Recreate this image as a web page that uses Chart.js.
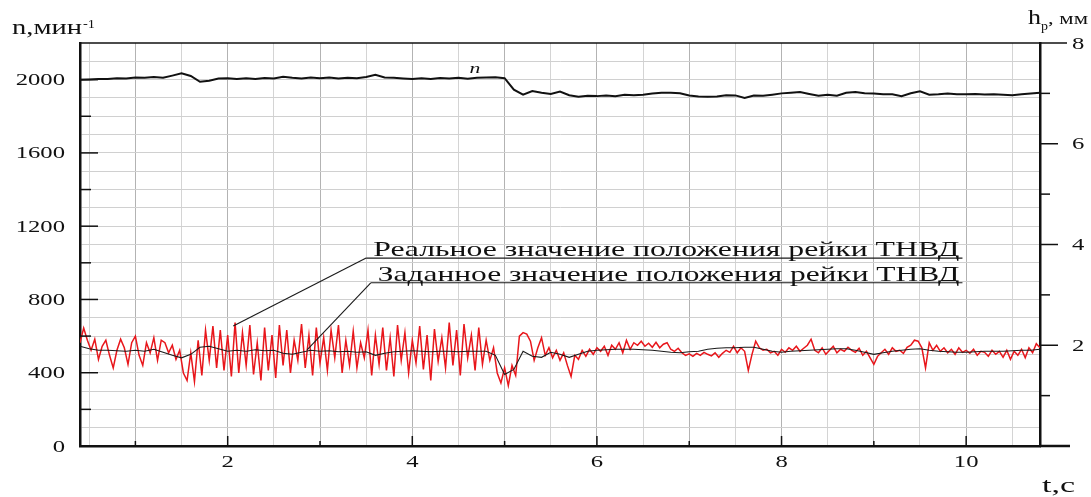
<!DOCTYPE html>
<html lang="ru">
<head>
<meta charset="UTF-8">
<title>n и h_p во времени</title>
<script src="https://cdn.jsdelivr.net/npm/chart.js@4.4.0/dist/chart.umd.min.js"></script>
<style>
  html, body { margin: 0; padding: 0; background: #fff; }
  #wrap { position: relative; width: 1091px; height: 497px; }
</style>
</head>
<body>
<div id="wrap"><canvas id="chart"></canvas></div>
<script>
// --- data ---
// engine speed n, min^-1, sampled every 0.1 s from 0.4 s
const SPEED_T0 = 0.4, SPEED_DT = 0.1;
const speedN = [
  2000, 2001, 2003, 2004, 2007, 2006, 2012, 2010, 2014, 2010,
  2022, 2035, 2020, 1988, 1994, 2006, 2008, 2004, 2007, 2003,
  2009, 2006, 2016, 2010, 2006, 2011, 2008, 2012, 2006, 2010,
  2008, 2014, 2026, 2012, 2010, 2006, 2003, 2007, 2004, 2009,
  2006, 2010, 2005, 2010, 2012, 2013, 2008, 1945, 1918, 1938,
  1928, 1922, 1935, 1915, 1907, 1912, 1910, 1914, 1910, 1918,
  1915, 1918, 1924, 1928, 1928, 1926, 1914, 1908, 1906, 1908,
  1915, 1914, 1900, 1913, 1912, 1918, 1925, 1928, 1932, 1922,
  1912, 1918, 1912, 1928, 1932, 1926, 1924, 1920, 1920, 1910,
  1926, 1936, 1918, 1920, 1924, 1920, 1920, 1921, 1919, 1920,
  1918, 1915, 1920, 1924, 1928
];

// set rack position, mm, same time grid as speed
const rackSet = [
  1.98, 1.93, 1.90, 1.90, 1.89, 1.88, 1.90, 1.88, 1.92, 1.86,
  1.80, 1.75, 1.82, 1.96, 1.98, 1.93, 1.88, 1.90, 1.88, 1.91,
  1.89, 1.90, 1.84, 1.82, 1.86, 1.90, 1.88, 1.89, 1.87, 1.88,
  1.86, 1.87, 1.80, 1.84, 1.87, 1.88, 1.89, 1.88, 1.87, 1.88,
  1.88, 1.87, 1.88, 1.88, 1.88, 1.80, 1.42, 1.52, 1.88, 1.78,
  1.76, 1.86, 1.82, 1.76, 1.82, 1.88, 1.90, 1.91, 1.92, 1.92,
  1.92, 1.91, 1.90, 1.88, 1.86, 1.85, 1.87, 1.88, 1.92, 1.94,
  1.95, 1.95, 1.96, 1.96, 1.92, 1.88, 1.86, 1.88, 1.89, 1.90,
  1.91, 1.92, 1.93, 1.93, 1.90, 1.86, 1.82, 1.85, 1.88, 1.90,
  1.92, 1.93, 1.90, 1.88, 1.87, 1.86, 1.86, 1.87, 1.88, 1.88,
  1.88, 1.89, 1.90, 1.90, 1.92
];

// real rack position, mm, sampled every 0.04 s from 0.4 s
const RACK_T0 = 0.4, RACK_DT = 0.04;
const rackReal = [
  2.05, 2.34, 2.10, 1.90, 2.12, 1.72, 1.98, 2.10, 1.80, 1.55, 1.90, 2.12, 1.95, 1.62, 2.05, 2.18, 1.80, 1.60, 2.05, 1.85, 2.15, 1.70, 2.10, 2.05, 1.85,
  2.00, 1.72, 1.90, 1.45, 1.30, 1.85, 1.28, 2.10, 1.40, 2.30, 1.70, 2.38, 1.55, 2.30, 1.50, 2.20, 1.38, 2.45, 1.45, 2.25, 1.60, 2.40, 1.42, 2.05, 1.30,
  2.35, 1.50, 2.20, 1.35, 2.40, 1.60, 2.30, 1.45, 2.10, 1.70, 2.42, 1.55, 2.20, 1.40, 2.35, 1.65, 2.15, 1.50, 2.30, 1.75, 2.40, 1.45, 2.10, 1.60, 2.28,
  1.55, 2.05, 1.75, 2.30, 1.40, 2.20, 1.62, 2.35, 1.50, 2.15, 1.38, 2.40, 1.70, 2.25, 1.45, 2.10, 1.65, 2.38, 1.52, 2.20, 1.30, 2.32, 1.68, 2.15, 1.55,
  2.45, 1.60, 2.30, 1.40, 2.42, 1.75, 2.20, 1.50, 2.35, 1.62, 2.10, 1.70, 1.95, 1.45, 1.25, 1.55, 1.20, 1.60, 1.40, 2.18, 2.25, 2.22, 2.08, 1.70, 1.95,
  2.15, 1.80, 1.95, 1.75, 1.90, 1.70, 1.85, 1.60, 1.38, 1.80, 1.72, 1.90, 1.78, 1.92, 1.82, 1.95, 1.88, 1.98, 1.80, 2.00, 1.92, 2.05, 1.85, 2.10, 1.92,
  2.05, 2.00, 2.08, 1.98, 2.04, 1.96, 2.06, 1.95, 2.02, 2.05, 1.92, 1.88, 1.94, 1.85, 1.80, 1.83, 1.78, 1.84, 1.80, 1.86, 1.82, 1.79, 1.85, 1.76, 1.84,
  1.90, 1.86, 1.98, 1.85, 1.95, 1.88, 1.50, 1.82, 2.08, 1.95, 1.90, 1.92, 1.85, 1.88, 1.80, 1.92, 1.86, 1.95, 1.90, 1.98, 1.88, 1.94, 2.00, 2.12, 1.90,
  1.85, 1.95, 1.82, 1.90, 1.98, 1.85, 1.92, 1.88, 1.96, 1.90, 1.86, 1.94, 1.80, 1.88, 1.75, 1.62, 1.78, 1.85, 1.92, 1.82, 1.95, 1.88, 1.90, 1.84, 1.96,
  2.00, 2.10, 2.08, 1.95, 1.55, 2.05, 1.90, 2.00, 1.88, 1.95, 1.85, 1.92, 1.82, 1.95, 1.86, 1.90, 1.84, 1.92, 1.80, 1.88, 1.86, 1.78, 1.90, 1.82, 1.88,
  1.76, 1.90, 1.72, 1.88, 1.80, 1.92, 1.75, 1.95, 1.85, 2.03, 1.95
];

// tick labels
const tLabels = [2, 4, 6, 8, 10];
const nLabels = [0, 400, 800, 1200, 1600, 2000];
const hLabels = [2, 4, 6, 8];

// callouts: text, start of underline (t, h) and point on the curve (t, h)
const notes = [
  { text: 'Реальное значение положения рейки ТНВД', t0: 3.50, h0: 3.73, t1: 2.06, h1: 2.38 },
  { text: 'Заданное значение положения рейки ТНВД', t0: 3.55, h0: 3.24, t1: 2.86, h1: 1.91 }
];
const NOTE_END = 9.96;

// --- helpers ---
const toPoints = (vals, t0, dt) => vals.map((v, i) => ({ x: +(t0 + i * dt).toFixed(3), y: v }));
const grid = (from, to, step) => {
  const out = [];
  for (let v = from; v <= to + 1e-9; v += step) out.push({ value: +v.toFixed(3) });
  return out;
};

const SERIF = '"Liberation Serif", "DejaVu Serif", serif';
const SX = 1.45; // the source picture is stretched sideways

function text(ctx, str, x, y, align, sx) {
  ctx.save();
  ctx.translate(x, y);
  ctx.scale(sx, 1);
  ctx.textAlign = align;
  ctx.textBaseline = 'alphabetic';
  ctx.fillText(str, 0, 0);
  ctx.restore();
}

// draw text from x so that it spans the given width
function fitText(ctx, str, x, y, width) {
  text(ctx, str, x, y, 'left', width / ctx.measureText(str).width);
}

function seg(ctx, x1, y1, x2, y2) {
  ctx.beginPath();
  ctx.moveTo(x1, y1);
  ctx.lineTo(x2, y2);
  ctx.stroke();
}

const decor = {
  id: 'decor',
  afterDatasetsDraw(chart) {
    const { ctx, scales: { x, yN, yH } } = chart;
    ctx.save();
    ctx.strokeStyle = '#1a1a1a';
    ctx.fillStyle = '#111';
    ctx.lineWidth = 1.1;
    ctx.font = '21px ' + SERIF;
    notes.forEach(n => {
      const xs = x.getPixelForValue(n.t0), ys = yH.getPixelForValue(n.h0);
      const xe = x.getPixelForValue(NOTE_END);
      seg(ctx, xs, ys, xe, ys);
      seg(ctx, xs, ys, x.getPixelForValue(n.t1), yH.getPixelForValue(n.h1));
      fitText(ctx, n.text, xs + 7, ys - 2, xe - xs - 10);
    });
    // curve label
    ctx.font = 'italic 15px ' + SERIF;
    text(ctx, 'n', x.getPixelForValue(4.62), yN.getPixelForValue(2035), 'left', SX);
    ctx.restore();
  },
  afterDraw(chart) {
    const { ctx, chartArea: a, scales: { x, yN, yH } } = chart;
    ctx.save();
    ctx.strokeStyle = '#111';
    ctx.fillStyle = '#111';

    // top frame line and bottom axis running past the right axis
    ctx.lineWidth = 1.5;
    seg(ctx, a.left, a.top, a.right, a.top);
    ctx.lineWidth = 2.5;
    seg(ctx, a.right, a.bottom, a.right + 30, a.bottom);

    // left ticks (inside)
    ctx.lineWidth = 1.5;
    for (let v = 200; v <= 2000; v += 200) {
      const y = yN.getPixelForValue(v);
      seg(ctx, a.left, y, a.left + (v % 400 === 0 ? 18 : 11), y);
    }
    // bottom ticks (inside)
    for (let v = 1; v <= 10; v++) {
      const px = x.getPixelForValue(v);
      seg(ctx, px, a.bottom, px, a.bottom - (v % 2 === 0 ? 10 : 5));
    }
    // right ticks (outside)
    for (let v = 1; v <= 8; v++) {
      const y = yH.getPixelForValue(v);
      const len = v === 8 ? 27 : (v % 2 === 0 ? 18 : 10);
      seg(ctx, a.right, y, a.right + len, y);
    }

    // tick labels
    ctx.font = '17px ' + SERIF;
    nLabels.forEach(v => text(ctx, String(v), a.left - 15, yN.getPixelForValue(v) + 5.5, 'right', SX));
    tLabels.forEach(v => text(ctx, String(v), x.getPixelForValue(v), a.bottom + 21, 'center', SX));
    hLabels.forEach(v => text(ctx, String(v), a.right + 32, yH.getPixelForValue(v) + 5.5, 'left', SX));

    // axis titles
    ctx.font = '20px ' + SERIF;
    fitText(ctx, 'n,мин', 12, 34, 70);
    ctx.font = '12px ' + SERIF;
    fitText(ctx, '-1', 83, 28, 12);

    ctx.font = '20px ' + SERIF;
    fitText(ctx, 'h', 1028, 24, 13);
    ctx.font = '12px ' + SERIF;
    fitText(ctx, 'p', 1041, 30, 7);
    ctx.font = '17px ' + SERIF;
    fitText(ctx, ', мм', 1048, 24, 40);

    ctx.font = '20px ' + SERIF;
    fitText(ctx, 't,с', 1042, 492, 33);
    ctx.restore();
  }
};

new Chart(document.getElementById('chart'), {
  type: 'line',
  data: {
    datasets: [
      { label: 'n', data: toPoints(speedN, SPEED_T0, SPEED_DT), yAxisID: 'yN',
        borderColor: '#111', borderWidth: 2, order: 0 },
      { label: 'Заданное значение положения рейки ТНВД', data: toPoints(rackSet, SPEED_T0, SPEED_DT), yAxisID: 'yH',
        borderColor: '#1a1a1a', borderWidth: 1.1, order: 1 },
      { label: 'Реальное значение положения рейки ТНВД', data: toPoints(rackReal, RACK_T0, RACK_DT), yAxisID: 'yH',
        borderColor: '#e8161b', borderWidth: 1.5, order: 2 }
    ]
  },
  options: {
    responsive: true,
    maintainAspectRatio: false,
    animation: false,
    layout: { padding: { top: 43, left: 0, right: 0, bottom: 0 } },
    plugins: { legend: { display: false }, tooltip: { enabled: false } },
    elements: { point: { radius: 0 }, line: { tension: 0 } },
    scales: {
      x: {
        type: 'linear', min: 0.4, max: 10.8,
        afterBuildTicks: s => { s.ticks = grid(0.5, 10.5, 0.5); },
        afterFit: s => { s.height = 51; },
        grid: {
          drawTicks: false,
          color: c => (c.tick && Number.isInteger(c.tick.value)) ? '#b3b3b3' : '#d4d4d4'
        },
        border: { color: '#111', width: 2.5 },
        ticks: { display: false }
      },
      yN: {
        position: 'left', min: 0, max: 2200,
        afterBuildTicks: s => { s.ticks = grid(100, 2100, 100); },
        afterFit: s => { s.width = 80; },
        grid: { drawTicks: false, color: '#d0d0d0' },
        border: { color: '#111', width: 2.5 },
        ticks: { display: false }
      },
      yH: {
        position: 'right', min: 0, max: 8,
        afterFit: s => { s.width = 51; },
        grid: { display: false, drawTicks: false },
        border: { display: true, color: '#111', width: 2.5 },
        ticks: { display: false }
      }
    }
  },
  plugins: [decor]
});
</script>
</body>
</html>
